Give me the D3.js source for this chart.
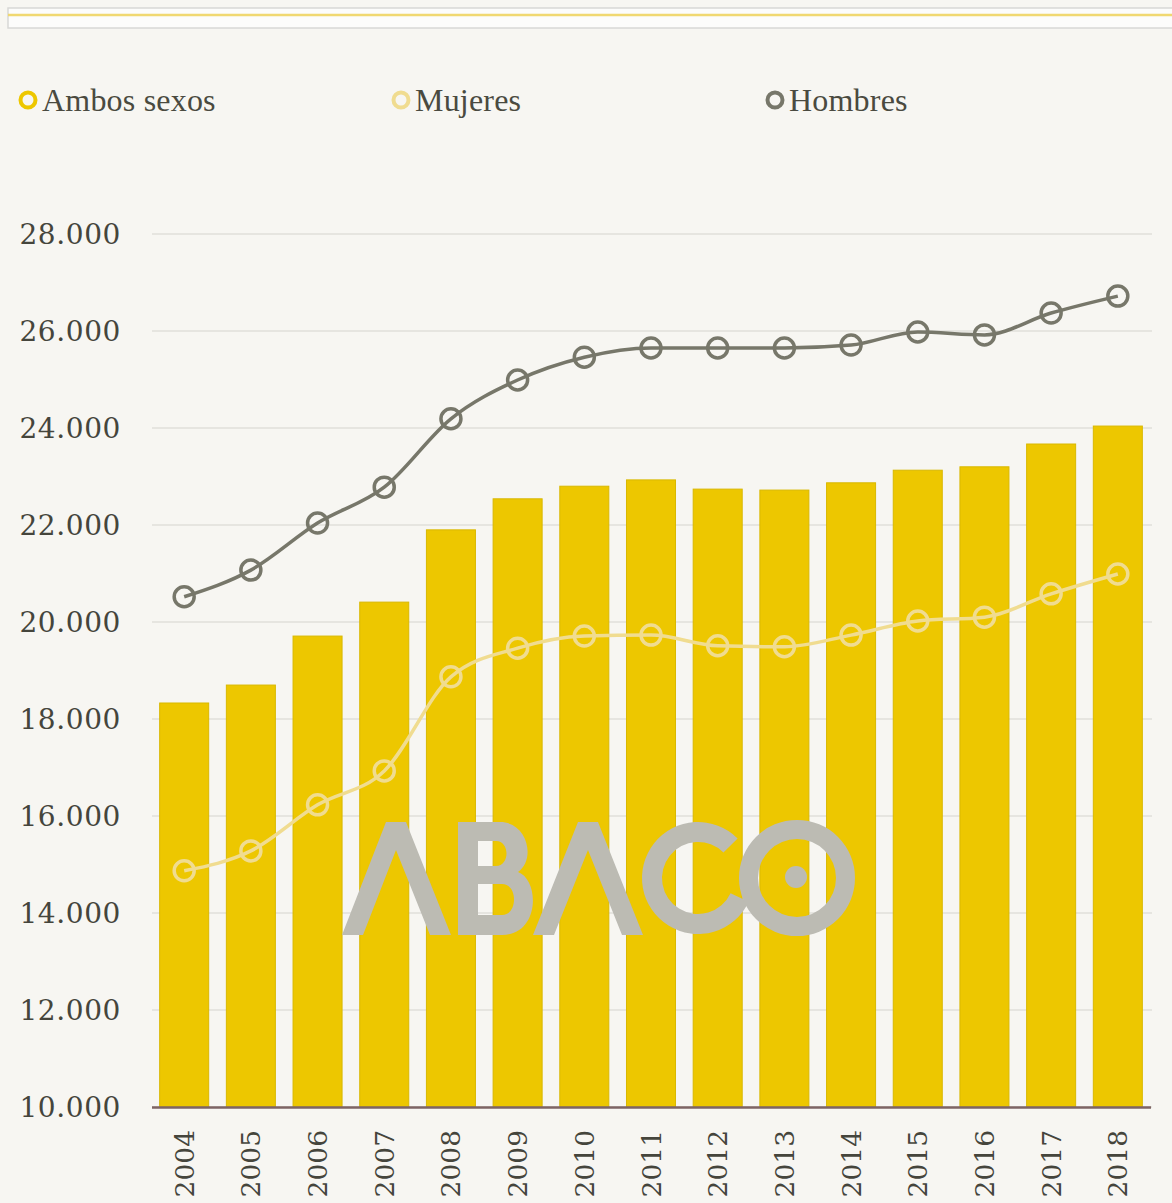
<!DOCTYPE html>
<html><head><meta charset="utf-8">
<script src="https://cdn.jsdelivr.net/npm/d3@7"></script>
<style>
html,body{margin:0;padding:0;background:#f7f6f2;}
svg{display:block;}
</style></head>
<body>
<svg id="chart" width="1172" height="1203"></svg>
<script>
const years = ["2004","2005","2006","2007","2008","2009","2010","2011","2012","2013","2014","2015","2016","2017","2018"];
const ambos = [18330,18700,19710,20410,21900,22540,22800,22930,22740,22720,22870,23130,23200,23670,24040];
const mujeres = [14870,15280,16230,16930,18870,19460,19710,19730,19510,19490,19730,20020,20100,20580,20990];
const hombres = [20520,21070,22040,22780,24190,24990,25460,25650,25650,25650,25710,25980,25920,26370,26720];
const yTicks = [10000,12000,14000,16000,18000,20000,22000,24000,26000,28000];
const legendLabels = ["Ambos sexos","Mujeres","Hombres"];

const svg = d3.select("#chart");
const cAmbos = "#edc700", cMuj = "#f0dc90", cHom = "#77776a";
const serif = "'DejaVu Serif', 'Liberation Serif', serif";

// top decorative bar
svg.append("rect").attr("x",8).attr("y",8).attr("width",1170).attr("height",20)
  .attr("fill","#fcfcfb").attr("stroke","#d8d8d6").attr("stroke-width",1.5);
svg.append("line").attr("x1",8).attr("x2",1172).attr("y1",15).attr("y2",15)
  .attr("stroke","#f0d870").attr("stroke-width",2.5);

const x = d3.scaleBand().domain(years).range([151,1151]).paddingInner(0.265).paddingOuter(0.13);
const y = d3.scaleLinear().domain([10000,28000]).range([1107,234]);

// gridlines
svg.append("g").selectAll("line").data(yTicks).join("line")
  .attr("x1",152).attr("x2",1152).attr("y1",d=>y(d)).attr("y2",d=>y(d))
  .attr("stroke","#e6e5e0").attr("stroke-width",2);

// y axis labels
const fmt = d => d3.format(",")(d).replace(/,/g,".");
const yAxis = d3.axisLeft(y).tickValues(yTicks).tickFormat(fmt).tickSize(0).tickPadding(0);
const ga = svg.append("g").attr("transform","translate(121,0)").call(yAxis);
ga.select(".domain").remove();
ga.selectAll("text").attr("font-family",serif).attr("font-size",28).attr("fill","#45453c")
  .attr("letter-spacing","0.6px").attr("dy","0.35em");

// bars
svg.append("g").selectAll("rect").data(years).join("rect")
  .attr("x",d=>x(d)).attr("width",x.bandwidth())
  .attr("y",(d,i)=>y(ambos[i])).attr("height",(d,i)=>y(10000)-y(ambos[i]))
  .attr("fill",cAmbos).attr("stroke","#d9b800").attr("stroke-width",1);

// x axis
const xAxis = d3.axisBottom(x).tickSize(0).tickPadding(0);
const gx = svg.append("g").attr("transform","translate(0,1107)").call(xAxis);
gx.select(".domain").remove();
svg.append("line").attr("x1",152).attr("x2",1151).attr("y1",1107.5).attr("y2",1107.5)
  .attr("stroke","#7e6464").attr("stroke-width",2.5);
gx.selectAll("text").attr("font-family",serif).attr("font-size",26.5).attr("fill","#45453c")
  .attr("transform","rotate(-90)").attr("text-anchor","end")
  .attr("x",-23).attr("y",0).attr("dy","0.36em");

// watermark ABACO (decoration)
const wm = svg.append("g").attr("fill","#bcbbb3").attr("stroke","none");
wm.append("path").attr("d","M342,935 L386,822 L406,822 L451,935 L430,935 L396,850 L363,935 Z");
wm.append("path").attr("fill-rule","evenodd").attr("d",
  "M458,822 L500,822 C528,822 536,860 518,872 C540,880 540,935 502,935 L458,935 Z " +
  "M478,841 L478,866 L496,866 C510,866 510,841 496,841 Z " +
  "M478,884 L478,915 L502,915 C518,915 518,884 502,884 Z");
wm.append("path").attr("d","M533,935 L578,822 L598,822 L643,935 L622,935 L588,850 L554,935 Z");
const arcC = d3.arc().innerRadius(36).outerRadius(56).startAngle(Math.PI*0.64).endAngle(Math.PI*2.25);
wm.append("path").attr("transform","translate(698,878)").attr("d",arcC());
wm.append("path").attr("fill-rule","evenodd").attr("d",
  "M739,878 a58,58 0 1,0 116,0 a58,58 0 1,0 -116,0 Z M758,878 a39,39 0 1,0 78,0 a39,39 0 1,0 -78,0 Z");
wm.append("circle").attr("cx",796).attr("cy",877).attr("r",11);

// lines
const cx = i => x(years[i]) + x.bandwidth()/2;
const line = d3.line().x((d,i)=>cx(i)).y(d=>y(d)).curve(d3.curveMonotoneX);
function series(vals,color){
  svg.append("path").datum(vals).attr("d",line).attr("fill","none")
    .attr("stroke",color).attr("stroke-width",3.5);
  svg.append("g").selectAll("circle").data(vals).join("circle")
    .attr("cx",(d,i)=>cx(i)).attr("cy",d=>y(d)).attr("r",10)
    .attr("fill","none").attr("stroke",color).attr("stroke-width",3.5);
}
series(mujeres,cMuj);
series(hombres,cHom);

// legend
const legX = [28,401,775];
const legC = [cAmbos,cMuj,cHom];
const lg = svg.append("g");
legendLabels.forEach((t,i)=>{
  lg.append("circle").attr("cx",legX[i]).attr("cy",100).attr("r",7.5)
    .attr("fill","none").attr("stroke",legC[i]).attr("stroke-width",4);
  lg.append("text").attr("x",legX[i]+14).attr("y",100).attr("dy","0.35em")
    .attr("font-family","'Liberation Serif', serif").attr("font-size",32)
    .attr("fill","#4a4a40").attr("letter-spacing","0.2px").text(t);
});
</script>
</body></html>
